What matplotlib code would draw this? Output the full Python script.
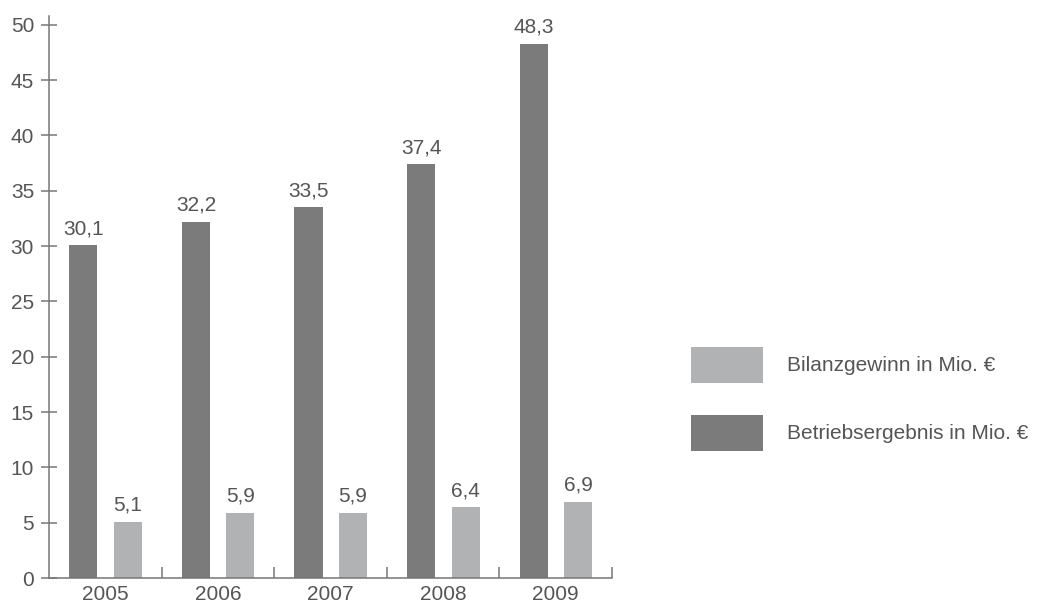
import numpy as np
import matplotlib.pyplot as plt

plt.rcParams['font.family'] = ['Liberation Sans', 'DejaVu Sans']

years = ['2005', '2006', '2007', '2008', '2009']
betriebsergebnis = [30.1, 32.2, 33.5, 37.4, 48.3]
bilanzgewinn = [5.1, 5.9, 5.9, 6.4, 6.9]

dark = '#7b7b7b'
light = '#b1b2b4'
txt = '#555555'
fs = 15

fig = plt.figure(figsize=(10.54, 6.05), dpi=100)
ax = fig.add_axes([49/1054, 27/605, (612-49)/1054, (578-16)/605])

x = np.arange(len(years))
w = 0.25
b1 = ax.bar(x - 0.195, betriebsergebnis, w, color=dark, label='Betriebsergebnis in Mio. €')
b2 = ax.bar(x + 0.2, bilanzgewinn, w, color=light, label='Bilanzgewinn in Mio. €')

for bars, vals in [(b1, betriebsergebnis), (b2, bilanzgewinn)]:
    for r, v in zip(bars, vals):
        ax.annotate(f'{v:.1f}'.replace('.', ','), (r.get_x() + r.get_width()/2, v),
                    xytext=(0, 5), textcoords='offset points',
                    ha='center', va='bottom', fontsize=fs, color=txt)

ax.set_xlim(-0.5, 4.5)
ax.set_ylim(0, 50.8)
ax.set_yticks(range(0, 51, 5))
ax.set_xticks(x)
ax.set_xticklabels(years)
ax.set_xticks(np.arange(0.5, 5, 1), minor=True)

for s in ['top', 'right']:
    ax.spines[s].set_visible(False)
for s in ['left', 'bottom']:
    ax.spines[s].set_color('#777777')
    ax.spines[s].set_linewidth(1.1)

ax.tick_params(axis='y', direction='inout', length=11.5, width=1.1, color='#777777',
               labelsize=fs, labelcolor=txt, pad=5)
ax.tick_params(axis='x', which='major', length=0, labelsize=fs, labelcolor=txt, pad=5)
ax.tick_params(axis='x', which='minor', direction='in', length=8, width=1.1, color='#777777')

em = fs * 100 / 72
ax.legend(handles=[b2, b1], loc='upper left', bbox_to_anchor=(691/1054, 1 - 347/605),
          bbox_transform=fig.transFigure, frameon=False, borderpad=0, borderaxespad=0,
          handlelength=72/em, handleheight=(36/em - 0.245)/0.65, labelspacing=32/em,
          handletextpad=24/em, fontsize=fs, labelcolor=txt)

fig.savefig('out.png', dpi=100)
